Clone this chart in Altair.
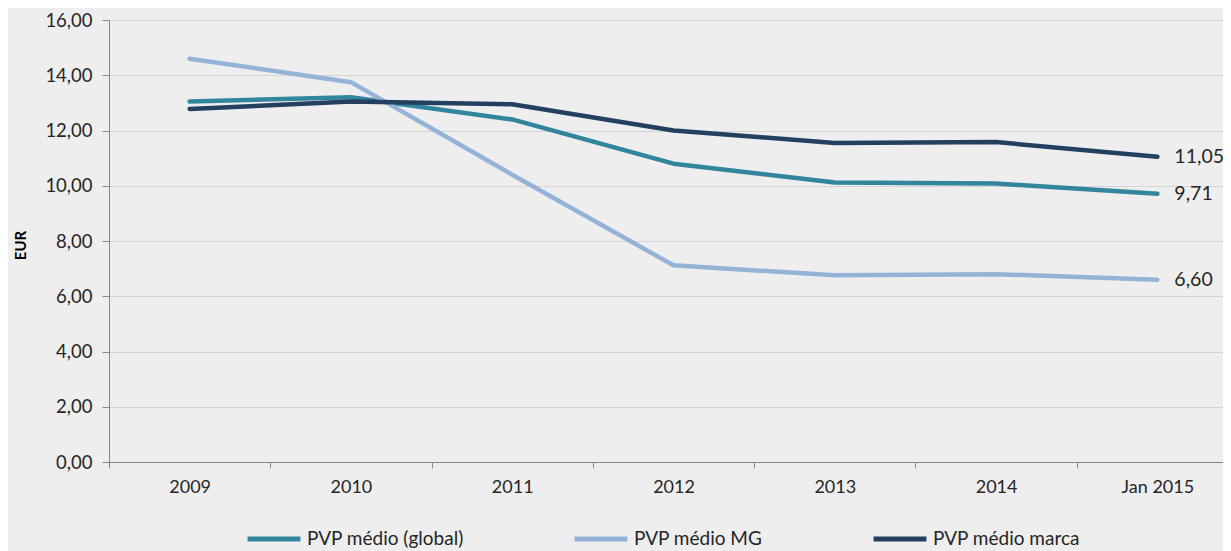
import altair as alt
import pandas as pd

years = ["2009", "2010", "2011", "2012", "2013", "2014", "Jan 2015"]
series_names = ["PVP médio (global)", "PVP médio MG", "PVP médio marca"]
global_vals = [13.05, 13.20, 12.40, 10.80, 10.12, 10.08, 9.71]
mg_vals = [14.60, 13.75, 10.40, 7.12, 6.76, 6.80, 6.60]
marca_vals = [12.78, 13.05, 12.95, 12.00, 11.55, 11.58, 11.05]
colors = ["#31859c", "#95b3d7", "#243f60"]
y_ticks = [0, 2, 4, 6, 8, 10, 12, 14, 16]

rows = []
for name, vals in zip(series_names, [global_vals, mg_vals, marca_vals]):
    for yr, v in zip(years, vals):
        rows.append({"year": yr, "series": name, "value": v})
df = pd.DataFrame(rows)

FONT = "Lato"
x_scale = alt.Scale(type="band", domain=years, paddingInner=0, paddingOuter=0, range=[0, 1129])

x_enc = alt.X(
    "year:N",
    sort=years,
    scale=x_scale,
    axis=alt.Axis(
        title=None,
        tickBand="extent",
        tickSize=6,
        tickColor="#868686",
        domainColor="#868686",
        labelPadding=10,
        labelFontSize=18,
        labelColor="#262626",
        labelFont=FONT,
        labelAngle=0,
        grid=False,
    ),
)
y_enc = alt.Y(
    "value:Q",
    scale=alt.Scale(domain=[0, 16], nice=False, zero=True),
    axis=alt.Axis(
        title="EUR",
        titleFont=FONT,
        titleFontSize=15,
        titleFontWeight="bold",
        titleColor="#000000",
        titleAngle=270,
        titleX=-89,
        titleY=225,
        titleAlign="center",
        titleBaseline="middle",
        values=y_ticks,
        labelExpr="replace(format(datum.value, '.2f'), '.', ',')",
        labelFontSize=18.5,
        labelFont=FONT,
        labelColor="#262626",
        labelPadding=10,
        tickSize=7,
        tickColor="#868686",
        domainColor="#868686",
        gridColor="#d4d4d4",
        grid=True,
    ),
)
color_enc = alt.Color(
    "series:N",
    scale=alt.Scale(domain=series_names, range=colors),
    legend=alt.Legend(
        title=None,
        orient="none",
        legendX=136,
        legendY=490,
        direction="horizontal",
        symbolType="stroke",
        symbolSize=2800,
        symbolStrokeWidth=5,
        labelFontSize=19,
        labelFont=FONT,
        labelColor="#262626",
        labelOffset=4,
        columnPadding=100,
    ),
)

base = alt.Chart(df)
lines = base.mark_line(strokeWidth=4.5, strokeCap="round", strokeJoin="round").encode(
    x=x_enc, y=y_enc, color=color_enc, order=alt.Order("year:N")
)
labels = (
    base.transform_filter(alt.datum.year == "Jan 2015")
    .transform_calculate(lab="replace(format(datum.value, '.2f'), '.', ',')")
    .mark_text(align="left", dx=17, fontSize=19.5, font=FONT, color="#262626")
    .encode(x=alt.X("year:N", sort=years, scale=x_scale), y="value:Q", text="lab:N")
)

chart = (
    alt.layer(lines, labels)
    .properties(
        width=1114,
        height=442,
        autosize=alt.AutoSizeParams(type="none"),
        padding={"left": 101, "top": 12, "right": 0, "bottom": 89},
        background="#eeeeee",
    )
    .configure_view(stroke=None)
)

chart.save("out.html", embed_options={"renderer": "svg", "actions": False})
